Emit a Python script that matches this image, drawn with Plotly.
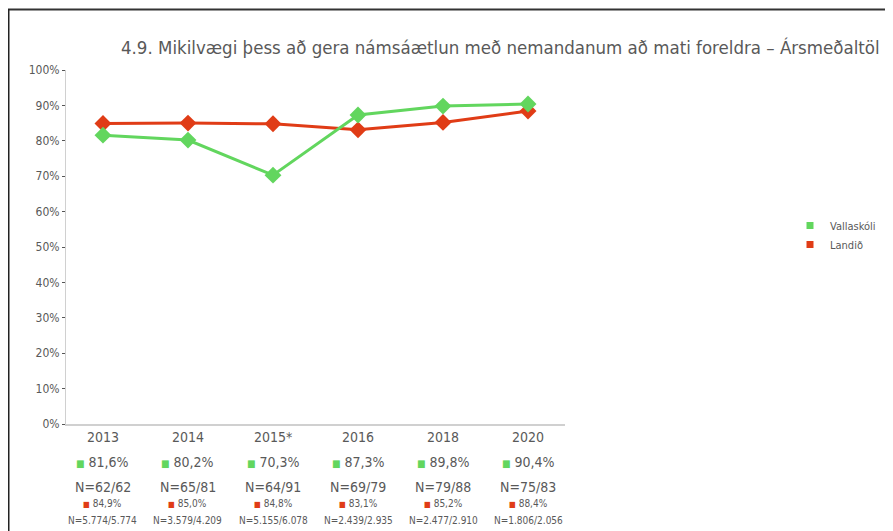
import plotly.graph_objects as go

categories = ["2013", "2014", "2015*", "2016", "2018", "2020"]
vallaskoli = [81.6, 80.2, 70.3, 87.3, 89.8, 90.4]
landid = [84.9, 85.0, 84.8, 83.1, 85.2, 88.4]
n_vallaskoli = ["N=62/62", "N=65/81", "N=64/91", "N=69/79", "N=79/88", "N=75/83"]
n_landid = ["N=5.774/5.774", "N=3.579/4.209", "N=5.155/6.078", "N=2.439/2.935", "N=2.477/2.910", "N=1.806/2.056"]
y_ticks = [0, 10, 20, 30, 40, 50, 60, 70, 80, 90, 100]
y_ticktext = [f"{v}%" for v in y_ticks]
title_text = "4.9. Mikilvægi þess að gera námsáætlun með nemandanum að mati foreldra – Ársmeðaltöl"

GREEN = "#62d65e"
RED = "#e03c16"
TXT = "#595959"
FONT = "DejaVu Sans Condensed, Liberation Sans Narrow, sans-serif"

# page offset of the plotly div (body margin)
OFF = 8
W, H = 893 - OFF, 531 - OFF
# plot area in page pixels
L, R = 66, 565
T, B = 70, 424

def px(xp):
    return (xp - L) / (R - L)

def py(yp):
    return (B - yp) / (B - T)

def fmt(v):
    return f"{v:.1f}".replace(".", ",") + "%"

fig = go.Figure()
fig.add_trace(go.Scatter(x=categories, y=landid, mode="lines+markers", name="Landið",
                         line=dict(color=RED, width=3), marker=dict(symbol="diamond", size=13, color=RED),
                         showlegend=False))
fig.add_trace(go.Scatter(x=categories, y=vallaskoli, mode="lines+markers", name="Vallaskóli",
                         line=dict(color=GREEN, width=3), marker=dict(symbol="diamond", size=13, color=GREEN),
                         showlegend=False))
# legend entries
fig.add_trace(go.Scatter(x=[None], y=[None], mode="markers", name="Vallaskóli",
                         marker=dict(symbol="square", size=7, color=GREEN)))
fig.add_trace(go.Scatter(x=[None], y=[None], mode="markers", name="Landið",
                         marker=dict(symbol="square", size=7, color=RED)))

ann = []
for i, c in enumerate(categories):
    ann.append(dict(x=i, y=py(437), xref="x", yref="paper", text=c, showarrow=False,
                    font=dict(size=14, color=TXT, family=FONT), yanchor="middle"))
    ann.append(dict(x=i, y=py(462), xref="x", yref="paper",
                    text=f"<span style='color:{GREEN};font-size:10px'>■</span> " + fmt(vallaskoli[i]),
                    showarrow=False, font=dict(size=14, color=TXT, family=FONT), yanchor="middle"))
    ann.append(dict(x=i, y=py(487), xref="x", yref="paper", text=n_vallaskoli[i], showarrow=False,
                    font=dict(size=14, color=TXT, family=FONT), yanchor="middle"))
    ann.append(dict(x=i, y=py(504), xref="x", yref="paper",
                    text=f"<span style='color:{RED};font-size:8px'>■</span> " + fmt(landid[i]),
                    showarrow=False, font=dict(size=10, color=TXT, family=FONT), yanchor="middle"))
    ann.append(dict(x=i, y=py(520), xref="x", yref="paper", text=n_landid[i], showarrow=False,
                    font=dict(size=10, color=TXT, family=FONT), yanchor="middle"))

ann.append(dict(x=px(119), y=py(47), xref="paper", yref="paper", text=title_text, showarrow=False,
                xanchor="left", yanchor="middle", font=dict(size=18.5, color=TXT, family=FONT)))

shapes = [
    dict(type="line", xref="paper", yref="paper", x0=px(8), x1=px(900), y0=py(9.5), y1=py(9.5),
         line=dict(color="#333333", width=2)),
    dict(type="line", xref="paper", yref="paper", x0=px(8.75), x1=px(8.75), y0=py(9), y1=py(540),
         line=dict(color="#222222", width=1.5)),
]

fig.update_layout(
    width=W, height=H,
    margin=dict(l=L - OFF, r=(W + OFF) - R, t=T - OFF, b=(H + OFF) - B, autoexpand=False),
    paper_bgcolor="white", plot_bgcolor="white",
    font=dict(family=FONT, color=TXT, size=12),
    annotations=ann, shapes=shapes,
    legend=dict(x=px(790), y=py(235), xanchor="left", yanchor="middle", font=dict(size=11, color=TXT, family=FONT),
                itemwidth=30, tracegroupgap=0, bgcolor="rgba(0,0,0,0)"),
    xaxis=dict(type="category", showticklabels=False, showgrid=False, showline=True, linecolor="#d0d0d0",
               linewidth=2, ticks="", zeroline=False, range=[-0.435, 5.435]),
    yaxis=dict(range=[0, 100], tickvals=y_ticks, ticktext=y_ticktext, showgrid=False, showline=True,
               linecolor="#d0d0d0", linewidth=1, ticks="outside", ticklen=3, tickcolor="#555555",
               zeroline=False, tickfont=dict(size=12, color=TXT, family=FONT)),
)

fig.write_html("out.html")
